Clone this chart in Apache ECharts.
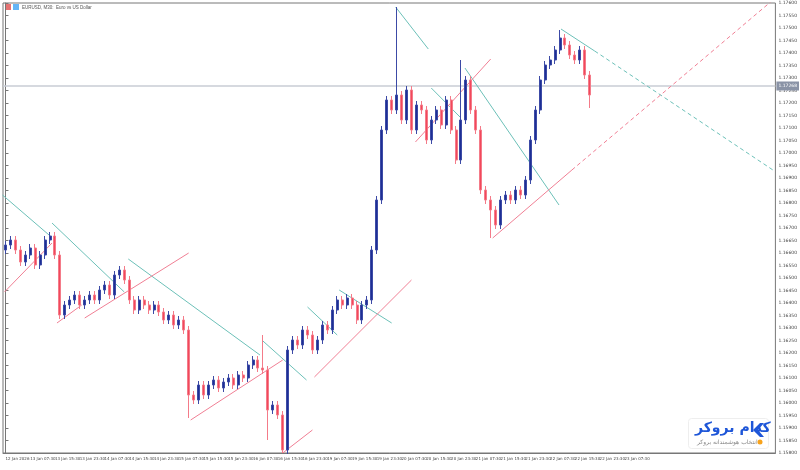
<!DOCTYPE html>
<html>
<head>
<meta charset="utf-8">
<script src="https://cdn.jsdelivr.net/npm/echarts@6/dist/echarts.min.js"></script>
<style>html,body{margin:0;padding:0;background:#fff}#chart{width:800px;height:470px}</style>
</head>
<body>
<div id="chart"></div>
<script>
// closes of each 30-minute candle, open is previous close
var closes = [1.16632, 1.16652, 1.16612, 1.16564, 1.16592, 1.16620, 1.16552, 1.16592, 1.16652, 1.16668,
    1.16592, 1.16352, 1.16392, 1.16412, 1.16432, 1.16392, 1.16412, 1.16432, 1.16412, 1.16452,
    1.16472, 1.16432, 1.16512, 1.16532, 1.16492, 1.16412, 1.16372, 1.16412, 1.16392, 1.16372,
    1.16392, 1.16364, 1.16332, 1.16352, 1.16312, 1.16332, 1.16292, 1.16032, 1.16012, 1.16072,
    1.16032, 1.16072, 1.16092, 1.16060, 1.16084, 1.16100, 1.16072, 1.16112, 1.16100, 1.16152,
    1.16172, 1.16140, 1.16132, 1.15972, 1.15992, 1.15952, 1.15812, 1.16212, 1.16252, 1.16232,
    1.16292, 1.16272, 1.16212, 1.16252, 1.16312, 1.16292, 1.16372, 1.16412, 1.16392, 1.16420,
    1.16392, 1.16332, 1.16392, 1.16412, 1.16612, 1.16812, 1.17092, 1.17212, 1.17172, 1.17232,
    1.17132, 1.17252, 1.17092, 1.17192, 1.17172, 1.17052, 1.17132, 1.17172, 1.17112, 1.17212,
    1.17092, 1.16972, 1.17132, 1.17292, 1.17172, 1.17092, 1.16852, 1.16812, 1.16772, 1.16712,
    1.16812, 1.16832, 1.16812, 1.16852, 1.16832, 1.16892, 1.17052, 1.17172, 1.17292, 1.17352,
    1.17372, 1.17412, 1.17460, 1.17432, 1.17392, 1.17372, 1.17412, 1.17312, 1.17232];
var firstOpen = 1.16612;
var wick = 0.00016;
// candles whose shadows stick out further
var highSpikes = {52: 1.16272, 79: 1.17584, 92: 1.17372, 112: 1.17492};
var lowSpikes = {37: 1.15940, 53: 1.15852, 56: 1.15800, 98: 1.16660, 118: 1.17180};

var tickLabels = ['12 Jan 2026', '13 Jan 07:30', '13 Jan 15:30', '13 Jan 23:30', '14 Jan 07:30', '14 Jan 15:30',
    '14 Jan 23:30', '15 Jan 07:30', '15 Jan 15:30', '15 Jan 23:30', '16 Jan 07:30', '16 Jan 15:30',
    '16 Jan 23:30', '19 Jan 07:30', '19 Jan 15:30', '19 Jan 23:30', '20 Jan 07:30', '20 Jan 15:30',
    '20 Jan 23:30', '21 Jan 07:30', '21 Jan 15:30', '21 Jan 23:30', '22 Jan 07:30', '22 Jan 15:30',
    '22 Jan 23:30', '23 Jan 07:30'];
var slotCount = 156;
var currentPrice = 1.17268;

// trend lines: [index1, price1, index2, price2]
var tealLines = [[-0.6, 1.16832, 8.8, 1.16672], [9.4, 1.16720, 24, 1.16444], [24.8, 1.16576, 51.4, 1.16192],
    [52, 1.16248, 60.8, 1.16092], [61, 1.16384, 67, 1.16272], [67.4, 1.16452, 78, 1.16320],
    [78.8, 1.17584, 85.4, 1.17416], [86, 1.17260, 92, 1.17140], [92.8, 1.17340, 111.8, 1.16792],
    [112.2, 1.17496, 119, 1.17408]];
var tealDashed = [[119, 1.17408, 155, 1.16932]];
var pinkLines = [[-0.2, 1.16444, 9.4, 1.16640], [10.4, 1.16320, 15.4, 1.16392], [16, 1.16340, 37, 1.16600],
    [37.4, 1.15932, 56, 1.16172], [56, 1.15800, 62, 1.15892], [62.4, 1.16104, 82, 1.16492],
    [82.8, 1.17044, 98, 1.17376], [98.4, 1.16660, 114.4, 1.16932]];
var pinkDashed = [[114.4, 1.16932, 155, 1.17612]];

var cats = [], candles = [];
for (var i = 0; i < slotCount; i++) {
    cats.push(i);
    if (i < closes.length) {
        var o = i === 0 ? firstOpen : closes[i - 1], c = closes[i];
        var hi = highSpikes[i] || Math.max(o, c) + wick;
        var lo = lowSpikes[i] || Math.min(o, c) - wick;
        candles.push([o, c, lo, hi]);
    } else {
        candles.push('-');
    }
}

function lineSeries(list, color, dashed) {
    return list.map(function (s) {
        return {
            type: 'line', xAxisIndex: 1, symbol: 'none', silent: true, z: 3,
            lineStyle: {color: color, width: 1, type: dashed ? [4, 3] : 'solid'},
            data: [[s[0], s[1]], [s[2], s[3]]]
        };
    });
}

var chart = echarts.init(document.getElementById('chart'));
chart.setOption({
    animation: false,
    textStyle: {fontFamily: 'DejaVu Sans, sans-serif'},
    grid: {left: 3, right: 18, top: 3, bottom: 17, show: true, borderColor: '#777', borderWidth: 1},
    xAxis: [{
        type: 'category', data: cats, boundaryGap: true,
        axisLine: {lineStyle: {color: '#777'}},
        axisTick: {interval: 4, length: 3, lineStyle: {color: '#777'}},
        axisLabel: {
            interval: 4, fontSize: 4, color: '#444', margin: 4, align: 'left', hideOverlap: false,
            formatter: function (v, idx) { return tickLabels[idx / 5] || ''; }
        },
        splitLine: {show: false}
    }, {
        type: 'value', min: -0.5, max: slotCount - 0.5, show: false
    }],
    yAxis: {
        type: 'value', position: 'right', min: 1.1580, max: 1.1760, interval: 0.0005,
        axisLine: {show: true, lineStyle: {color: '#777'}},
        axisTick: {show: true, length: 3, lineStyle: {color: '#777'}},
        axisLabel: {fontSize: 4.5, color: '#444', margin: 3, formatter: function (v) { return v.toFixed(5); }},
        splitLine: {show: false}
    },
    series: [{
        type: 'candlestick', data: candles, barWidth: 2.5, z: 4,
        itemStyle: {color: '#1d2f94', color0: '#f2485b', borderColor: '#3c4aa6', borderColor0: '#f47b89', borderWidth: 1}
    }, {
        type: 'line', xAxisIndex: 1, symbol: 'none', silent: true, z: 2,
        lineStyle: {color: '#c8ccd4', width: 1.5},
        endLabel: {show: true, formatter: function () { return currentPrice.toFixed(5); },
            fontSize: 4.5, color: '#fff', backgroundColor: '#8a93a6', padding: [2, 2], distance: 1},
        data: [[-0.5, currentPrice], [slotCount - 0.5, currentPrice]]
    }].concat(lineSeries(tealLines, '#6cc0b8', false), lineSeries(tealDashed, '#6cc0b8', true),
        lineSeries(pinkLines, '#f07f94', false), lineSeries(pinkDashed, '#f07f94', true)),
    graphic: [
        {type: 'rect', left: 5, top: 4, shape: {width: 6, height: 6}, style: {fill: '#e57373'}},
        {type: 'rect', left: 13, top: 4, shape: {width: 6, height: 6}, style: {fill: '#64b5f6'}},
        {type: 'text', left: 22, top: 5, style: {text: 'EURUSD, M30:  Euro vs US Dollar', fontSize: 4.5, fill: '#555'}},
        {type: 'rect', left: 688, top: 418, shape: {width: 80, height: 30, r: 3}, style: {fill: '#fff', stroke: '#eee'}},
        {type: 'text', left: 695, top: 421, style: {text: 'کدام بروکر', fontSize: 14, fontWeight: 'bold', fill: '#1e56d8', fontFamily: 'DejaVu Sans'}},
        {type: 'text', left: 697, top: 439, style: {text: 'انتخاب هوشمندانه بروکر', fontSize: 6, fill: '#888', fontFamily: 'DejaVu Sans'}},
        {type: 'polygon', shape: {points: [[760, 423], [753, 430], [760, 437], [764, 437], [758, 430], [764, 423]]}, style: {fill: '#1e56d8'}},
        {type: 'circle', shape: {cx: 760, cy: 442, r: 2.5}, style: {fill: '#f7a21b'}}
    ]
});
</script>
</body>
</html>
